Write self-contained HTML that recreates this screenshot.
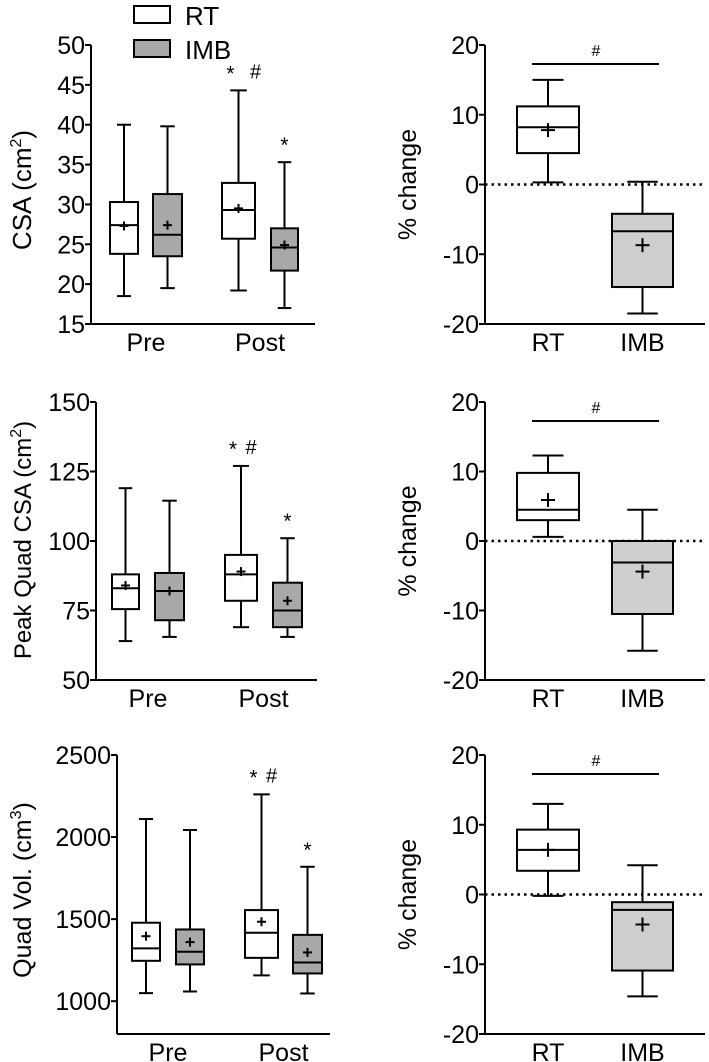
<!DOCTYPE html>
<html><head><meta charset="utf-8">
<style>
html,body{margin:0;padding:0;background:#fff;}
svg{display:block;font-family:"Liberation Sans",Arial,sans-serif;}
</style></head>
<body>
<svg id="fig" width="709" height="1062" viewBox="0 0 709 1062" xmlns="http://www.w3.org/2000/svg">
  <g>
    <rect x="134" y="6" width="36" height="17" fill="#fff" stroke="#000" stroke-width="2"/>
    <text x="185" y="25" font-size="26">RT</text>
    <rect x="134" y="40" width="36" height="17" fill="#a8a8a8" stroke="#000" stroke-width="2"/>
    <text x="185" y="59" font-size="26">IMB</text>
  </g>
</svg>
<script>
// ---- data: left panels (Pre/Post, RT/IMB): [low, q1, median, q3, high], means ----
const groupLabels = ["Pre", "Post"];
const seriesNames = ["RT", "IMB"];
const csaStats = [[18.5,23.8,27.4,30.3,40],[19.5,23.5,26.2,31.3,39.8],[19.2,25.7,29.3,32.7,44.3],[17,21.7,24.6,27,35.3]];
const csaMeans = [27.3,27.4,29.5,24.9];
const csaTicks = [15,20,25,30,35,40,45,50];
const peakStats = [[64,75.5,83,88,119],[65.5,71.5,82,88.5,114.5],[69,78.5,88,95,127],[65.5,69,75,85,101]];
const peakMeans = [84,82,89,78.5];
const peakTicks = [50,75,100,125,150];
const volStats = [[1049,1246,1322,1478,2110],[1059,1224,1301,1437,2043],[1157,1264,1417,1555,2260],[1047,1169,1236,1404,1819]];
const volMeans = [1396,1360,1484,1297];
const volTicks = [1000,1500,2000,2500];
// ---- data: right panels (% change) ----
const changeLabels = ["RT", "IMB"];
const csaChangeStats = [[0.3,4.5,8.2,11.2,15],[-18.5,-14.7,-6.7,-4.2,0.4]];
const csaChangeMeans = [7.8,-8.7];
const peakChangeStats = [[0.6,3,4.5,9.8,12.3],[-15.8,-10.5,-3.1,0,4.5]];
const peakChangeMeans = [5.9,-4.4];
const volChangeStats = [[-0.2,3.4,6.4,9.3,13],[-14.6,-10.9,-2.2,-1.1,4.2]];
const volChangeMeans = [6.4,-4.3];
const changeTicks = [-20,-10,0,10,20];

const NS = "http://www.w3.org/2000/svg";
const svg = document.getElementById("fig");
function mk(tag, attrs, parent, name, txt){
  const e = document.createElementNS(NS, tag);
  for (const k in attrs) e.setAttribute(k, attrs[k]);
  
  
  if (txt !== undefined) e.textContent = txt;
  (parent || svg).appendChild(e);
  return e;
}
function line(p, x1,y1,x2,y2,name,extra){
  const a = {x1:x1,y1:y1,x2:x2,y2:y2,stroke:"#000","stroke-width":2};
  if (extra) Object.assign(a, extra);
  return mk("line", a, p, name);
}
function drawBox(g, st, mean, x0, x1, y, fill, name){
  const cx = (x0+x1)/2, cw = (x1-x0)/4;
  const bg = mk("g", {}, g, name);
  line(bg, cx, y(st[4]), cx, y(st[3]), name+"-upper-whisker");
  line(bg, cx, y(st[1]), cx, y(st[0]), name+"-lower-whisker");
  line(bg, cx-cw, y(st[4]), cx+cw, y(st[4]), name+"-upper-cap");
  line(bg, cx-cw, y(st[0]), cx+cw, y(st[0]), name+"-lower-cap");
  mk("rect", {x:x0, y:y(st[3]), width:x1-x0, height:y(st[1])-y(st[3]), fill:fill, stroke:"#000", "stroke-width":2}, bg, name+"-box");
  line(bg, x0, y(st[2]), x1, y(st[2]), name+"-median");
  const m = (x1-x0) > 40 ? 7 : 4.5;
  line(bg, cx-m, y(mean), cx+m, y(mean), name+"-mean-h");
  line(bg, cx, y(mean)-m, cx, y(mean)+m, name+"-mean-v");
}
function axisY(g, ax, ticks, y, ybot, fs, name){
  line(g, ax, y(ticks[ticks.length-1]), ax, ybot, name+"-line");
  ticks.forEach(t=>{
    line(g, ax-6, y(t), ax, y(t), name+"-tick");
    mk("text", {x:ax-6, y:y(t)+9, "font-size":fs, "text-anchor":"end"}, g, name+"-tick-label", String(t));
  });
}
function leftPanel(cfg){
  const g = mk("g", {}, svg, cfg.name);
  const v0 = cfg.min, v1 = cfg.max;
  const y = v => cfg.yb + (v - v0) / (v1 - v0) * (cfg.yt - cfg.yb);
  axisY(g, cfg.ax, cfg.ticks, y, cfg.yb, 25, cfg.name+"-y-axis");
  line(g, cfg.ax, cfg.yb, cfg.xend, cfg.yb, cfg.name+"-x-axis");
  const fills = ["#fff", "#a8a8a8"];
  cfg.stats.forEach((st,i)=>{
    const b = cfg.boxes[i];
    drawBox(g, st, cfg.means[i], b[0], b[1], y, fills[i%2], cfg.name+"-"+groupLabels[Math.floor(i/2)].toLowerCase()+"-"+seriesNames[i%2].toLowerCase());
  });
  groupLabels.forEach((lab,k)=>{
    const xc = (cfg.boxes[2*k][0] + cfg.boxes[2*k+1][1]) / 2;
    mk("text", {x:xc, y:cfg.yb+27, "font-size":25, "text-anchor":"middle"}, g, "x-label-"+lab.toLowerCase(), lab);
  });
  const t = mk("text", {transform:`translate(${cfg.lx},${cfg.ly}) rotate(-90)`, "font-size":cfg.tfs, "text-anchor":"middle"}, g, "y-axis-title");
  t.textContent = cfg.title;
  mk("tspan", {dy:-10, "font-size":16}, t, "y-axis-title-superscript", cfg.sup);
  mk("tspan", {dy:10}, t, "y-axis-title-end", ")");
  const rtb = cfg.boxes[2], imbb = cfg.boxes[3];
  const rtx = (rtb[0]+rtb[1])/2, imx = (imbb[0]+imbb[1])/2;
  mk("text", {x:rtx-8, y:y(cfg.stats[2][4])-10, "font-size":21, "text-anchor":"middle"}, g, "sig-star-post-rt", "*");
  mk("text", {x:rtx+cfg.hashOff, y:y(cfg.stats[2][4])-12, "font-size":20, "text-anchor":"middle"}, g, "sig-hash-post-rt", "#");
  mk("text", {x:imx, y:y(cfg.stats[3][4])-10, "font-size":21, "text-anchor":"middle"}, g, "sig-star-post-imb", "*");
}
function rightPanel(cfg){
  const g = mk("g", {}, svg, cfg.name);
  const y = v => cfg.yb + (v + 20) / 40 * (cfg.yt - cfg.yb);
  axisY(g, 485, changeTicks, y, cfg.yb, 25, cfg.name+"-y-axis");
  line(g, 485, cfg.yb, 705, cfg.yb, cfg.name+"-x-axis");
  line(g, 485, y(0), 705, y(0), cfg.name+"-zero-line", {"stroke-dasharray":"2.5,4", "stroke-width":2.5});
  const boxes = [[517,579],[612,673]], fills = ["#fff","#cfcfcf"];
  cfg.stats.forEach((st,i)=>{
    drawBox(g, st, cfg.means[i], boxes[i][0], boxes[i][1], y, fills[i], cfg.name+"-"+changeLabels[i].toLowerCase());
    mk("text", {x:(boxes[i][0]+boxes[i][1])/2, y:cfg.yb+27, "font-size":25, "text-anchor":"middle"}, g, "x-label-"+changeLabels[i].toLowerCase(), changeLabels[i]);
  });
  line(g, 532, cfg.bar, 659, cfg.bar, "significance-bar");
  mk("text", {x:596, y:cfg.bar-8, "font-size":16, "text-anchor":"middle"}, g, "significance-hash", "#");
  mk("text", {transform:`translate(416,${(cfg.yt+cfg.yb)/2}) rotate(-90)`, "font-size":25, "text-anchor":"middle"}, g, "y-axis-title", "% change");
}
leftPanel({name:"csa-panel", stats:csaStats, means:csaMeans, ticks:csaTicks, min:15, max:50, yt:45, yb:324, ax:91, xend:315,
  boxes:[[110,138],[153,182],[222,255],[271,298]], title:"CSA (cm", sup:"2", lx:31, ly:190, tfs:26, hashOff:17});
leftPanel({name:"peak-csa-panel", stats:peakStats, means:peakMeans, ticks:peakTicks, min:50, max:150, yt:402, yb:680, ax:96, xend:317,
  boxes:[[112,139],[155,184],[225,257],[273,302]], title:"Peak Quad CSA (cm", sup:"2", lx:31, ly:540, tfs:24, hashOff:10});
leftPanel({name:"quad-vol-panel", stats:volStats, means:volMeans, ticks:volTicks, min:800, max:2500, yt:755, yb:1034, ax:117, xend:330,
  boxes:[[132,160],[176,204],[245,278],[293,322]], title:"Quad Vol. (cm", sup:"3", lx:31, ly:890, tfs:25, hashOff:10});
rightPanel({name:"csa-change-panel", stats:csaChangeStats, means:csaChangeMeans, yt:45, yb:324, bar:64});
rightPanel({name:"peak-change-panel", stats:peakChangeStats, means:peakChangeMeans, yt:402, yb:680, bar:421});
rightPanel({name:"vol-change-panel", stats:volChangeStats, means:volChangeMeans, yt:755, yb:1034, bar:774});
</script>
</body></html>
